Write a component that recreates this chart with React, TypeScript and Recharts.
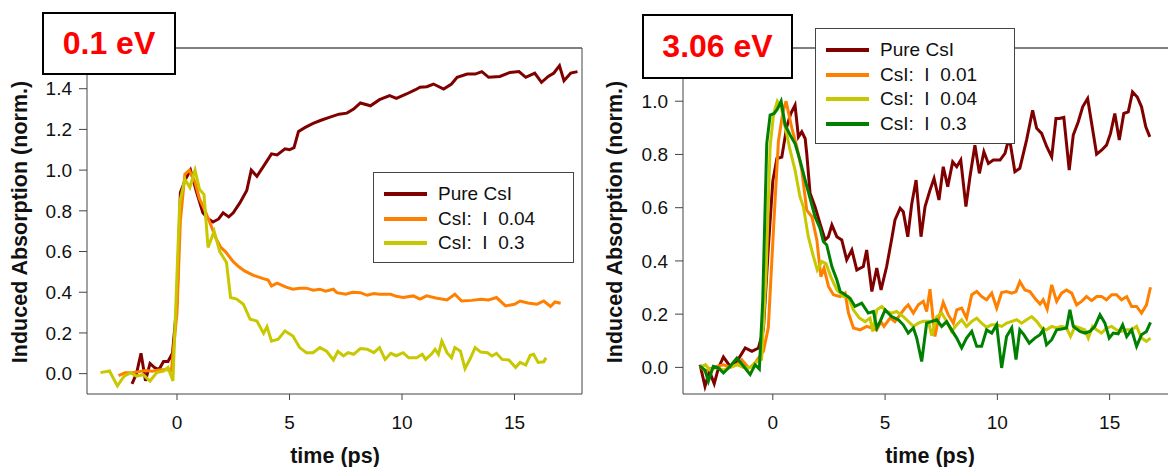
import React from 'react';
import { LineChart, Line, XAxis, YAxis, ReferenceLine } from 'recharts';

const FONT = '"Liberation Sans", Arial, Helvetica, sans-serif';

const timeTicks = [0, 5, 10, 15];
const leftYTicks = [0, 0.2, 0.4, 0.6, 0.8, 1.0, 1.2, 1.4];
const rightYTicks = [0, 0.2, 0.4, 0.6, 0.8, 1.0];

const leftLabels = ['Pure CsI', 'CsI:  I  0.04', 'CsI:  I  0.3'];
const rightLabels = ['Pure CsI', 'CsI:  I  0.01', 'CsI:  I  0.04', 'CsI:  I  0.3'];

// ---- 0.1 eV panel ----
const lTimePure = [-2.0, -1.8, -1.6, -1.4, -1.2, -1.0, -0.8, -0.6, -0.4, -0.2, 0.0, 0.15, 0.4, 0.6, 0.85, 1.15, 1.4, 1.6, 1.85, 2.05, 2.3, 2.5, 2.8, 3.1, 3.3, 3.55, 3.85, 4.2, 4.45, 4.8, 5.0, 5.2, 5.4, 5.7, 6.05, 6.4, 6.8, 7.2, 7.55, 7.85, 8.15, 8.6, 9.0, 9.45, 9.75, 10.2, 10.6, 10.8, 11.1, 11.4, 11.85, 12.2, 12.45, 12.9, 13.25, 13.55, 13.85, 14.35, 14.8, 15.2, 15.5, 15.9, 16.2, 16.5, 16.75, 17.0, 17.2, 17.5, 17.8];
const lValPure = [-0.05, 0.0, 0.10, -0.035, 0.05, 0.03, 0.02, 0.06, 0.06, 0.10, 0.35, 0.89, 0.96, 1.0, 0.90, 0.79, 0.76, 0.745, 0.76, 0.79, 0.77, 0.79, 0.84, 0.90, 1.0, 0.97, 1.02, 1.08, 1.075, 1.105, 1.10, 1.11, 1.19, 1.21, 1.23, 1.245, 1.26, 1.275, 1.28, 1.30, 1.33, 1.316, 1.346, 1.366, 1.353, 1.374, 1.395, 1.407, 1.41, 1.423, 1.398, 1.423, 1.456, 1.472, 1.472, 1.484, 1.456, 1.46, 1.48, 1.484, 1.456, 1.477, 1.431, 1.46, 1.477, 1.513, 1.439, 1.477, 1.484];

const lTime004 = [-2.6, -2.3, -2.0, -1.7, -1.4, -1.1, -0.8, -0.5, -0.25, 0.0, 0.15, 0.35, 0.55, 0.8, 1.0, 1.25, 1.45, 1.75, 1.95, 2.15, 2.5, 2.75, 3.0, 3.4, 3.8, 4.05, 4.2, 4.45, 4.85, 5.15, 5.45, 5.75, 6.05, 6.35, 6.6, 6.95, 7.1, 7.5, 7.8, 8.15, 8.45, 8.75, 9.0, 9.3, 9.5, 9.75, 10.05, 10.5, 10.8, 11.1, 11.5, 12.0, 12.35, 12.65, 13.1, 13.5, 13.85, 14.2, 14.6, 15.0, 15.25, 15.6, 16.0, 16.3, 16.6, 16.8, 17.05];
const lVal004 = [-0.01, 0.005, 0.005, 0.01, 0.015, 0.012, 0.018, 0.02, 0.015, 0.3, 0.75, 0.98, 1.0, 0.94, 0.86, 0.8, 0.745, 0.66, 0.62, 0.60, 0.55, 0.525, 0.505, 0.483, 0.468, 0.46, 0.431, 0.445, 0.425, 0.415, 0.42, 0.42, 0.41, 0.415, 0.405, 0.415, 0.398, 0.39, 0.40, 0.398, 0.385, 0.394, 0.39, 0.39, 0.39, 0.38, 0.374, 0.382, 0.366, 0.382, 0.372, 0.362, 0.39, 0.357, 0.36, 0.366, 0.362, 0.374, 0.333, 0.341, 0.357, 0.347, 0.341, 0.357, 0.33, 0.352, 0.346];

const lTime03 = [-3.4, -3.0, -2.65, -2.35, -2.05, -1.8, -1.5, -1.2, -0.9, -0.6, -0.4, -0.18, 0.12, 0.35, 0.57, 0.8, 1.0, 1.2, 1.38, 1.65, 1.9, 2.2, 2.38, 2.65, 2.95, 3.25, 3.55, 3.85, 4.0, 4.2, 4.5, 4.8, 5.15, 5.45, 5.75, 6.05, 6.35, 6.65, 6.95, 7.15, 7.4, 7.6, 7.85, 8.15, 8.45, 8.75, 9.0, 9.25, 9.5, 9.75, 10.05, 10.3, 10.65, 10.9, 11.05, 11.3, 11.47, 11.62, 11.77, 12.0, 12.2, 12.35, 12.6, 12.8, 13.05, 13.25, 13.5, 13.8, 14.0, 14.2, 14.45, 14.75, 15.05, 15.25, 15.5, 15.7, 15.85, 16.05, 16.3, 16.4];
const lVal03 = [0.005, 0.013, -0.06, -0.012, 0.005, -0.012, -0.005, -0.036, 0.005, 0.013, 0.03, -0.036, 0.84, 0.956, 0.915, 1.0, 0.906, 0.88, 0.62, 0.70, 0.60, 0.546, 0.374, 0.366, 0.341, 0.267, 0.259, 0.198, 0.231, 0.16, 0.169, 0.21, 0.185, 0.128, 0.103, 0.103, 0.128, 0.11, 0.067, 0.11, 0.087, 0.103, 0.095, 0.123, 0.12, 0.103, 0.128, 0.07, 0.1, 0.088, 0.103, 0.078, 0.078, 0.095, 0.07, 0.095, 0.12, 0.095, 0.16, 0.103, 0.078, 0.128, 0.11, 0.025, 0.078, 0.128, 0.106, 0.103, 0.087, 0.1, 0.07, 0.067, 0.03, 0.055, 0.042, 0.09, 0.095, 0.055, 0.058, 0.078];

// ---- 3.06 eV panel ----
const rTimePure = [-3.24, -3.02, -2.82, -2.61, -2.42, -2.2, -1.9, -1.6, -1.23, -0.93, -0.64, -0.42, -0.2, 0.0, 0.18, 0.4, 0.62, 0.8, 0.99, 1.14, 1.29, 1.44, 1.51, 1.66, 1.88, 2.1, 2.33, 2.47, 2.63, 2.85, 3.07, 3.29, 3.52, 3.74, 4.03, 4.18, 4.41, 4.63, 4.82, 5.07, 5.3, 5.44, 5.67, 5.81, 6.01, 6.19, 6.38, 6.6, 6.78, 7.0, 7.18, 7.4, 7.59, 7.79, 8.01, 8.19, 8.37, 8.6, 8.78, 9.0, 9.2, 9.4, 9.6, 9.82, 10.12, 10.34, 10.53, 10.78, 11.0, 11.3, 11.57, 11.75, 11.97, 12.2, 12.42, 12.61, 12.76, 12.96, 13.2, 13.38, 13.6, 13.8, 14.02, 14.2, 14.42, 14.64, 14.86, 15.04, 15.23, 15.43, 15.63, 15.83, 16.02, 16.23, 16.42, 16.61, 16.79];
const rValPure = [0.01, -0.071, -0.015, -0.061, -0.002, 0.039, 0.004, 0.022, 0.073, 0.06, 0.073, 0.141, 0.45, 0.70, 0.785, 0.79, 0.904, 0.954, 0.985, 0.866, 0.885, 0.86, 0.804, 0.654, 0.604, 0.541, 0.479, 0.49, 0.535, 0.491, 0.479, 0.404, 0.441, 0.366, 0.379, 0.441, 0.285, 0.373, 0.291, 0.379, 0.485, 0.554, 0.598, 0.585, 0.491, 0.616, 0.704, 0.491, 0.604, 0.666, 0.71, 0.629, 0.754, 0.679, 0.772, 0.754, 0.779, 0.604, 0.716, 0.835, 0.729, 0.81, 0.766, 0.779, 0.779, 0.804, 0.866, 0.735, 0.748, 0.854, 0.966, 0.898, 0.879, 0.829, 0.791, 0.935, 0.935, 0.939, 0.741, 0.873, 0.922, 0.979, 1.01, 0.916, 0.801, 0.816, 0.835, 0.879, 0.954, 0.854, 0.954, 0.96, 1.035, 1.016, 0.979, 0.904, 0.866];

const rTime001 = [-3.24, -3.02, -2.8, -2.5, -2.2, -1.9, -1.6, -1.38, -1.08, -0.85, -0.64, -0.42, -0.2, 0.05, 0.25, 0.45, 0.59, 0.85, 1.07, 1.29, 1.51, 1.74, 1.96, 2.14, 2.28, 2.48, 2.7, 3.0, 3.22, 3.37, 3.59, 3.89, 4.18, 4.41, 4.63, 4.81, 4.95, 5.22, 5.44, 5.67, 5.89, 6.03, 6.26, 6.48, 6.7, 6.85, 7.0, 7.22, 7.37, 7.59, 7.81, 8.04, 8.19, 8.41, 8.63, 8.86, 9.08, 9.3, 9.52, 9.75, 9.97, 10.19, 10.41, 10.64, 10.83, 11.0, 11.23, 11.45, 11.67, 11.9, 12.04, 12.22, 12.42, 12.64, 12.86, 13.08, 13.31, 13.53, 13.75, 13.97, 14.2, 14.42, 14.64, 14.86, 15.09, 15.31, 15.53, 15.76, 15.98, 16.2, 16.42, 16.64, 16.82];
const rVal001 = [0.004, -0.015, -0.006, 0.004, 0.01, 0.0, 0.01, 0.029, -0.002, 0.01, 0.035, 0.06, 0.15, 0.55, 0.85, 0.96, 1.0, 0.898, 0.829, 0.741, 0.591, 0.566, 0.479, 0.341, 0.373, 0.304, 0.273, 0.266, 0.279, 0.204, 0.148, 0.141, 0.154, 0.148, 0.141, 0.172, 0.154, 0.185, 0.172, 0.198, 0.223, 0.235, 0.204, 0.235, 0.248, 0.21, 0.294, 0.116, 0.179, 0.244, 0.198, 0.166, 0.216, 0.223, 0.185, 0.273, 0.285, 0.266, 0.254, 0.279, 0.223, 0.281, 0.285, 0.279, 0.285, 0.322, 0.291, 0.285, 0.26, 0.238, 0.254, 0.219, 0.31, 0.248, 0.279, 0.291, 0.279, 0.235, 0.248, 0.266, 0.251, 0.266, 0.266, 0.254, 0.273, 0.273, 0.254, 0.266, 0.229, 0.229, 0.204, 0.235, 0.301];

const rTime004 = [-3.24, -3.0, -2.8, -2.5, -2.2, -1.9, -1.6, -1.3, -1.0, -0.75, -0.5, -0.3, -0.12, 0.03, 0.2, 0.37, 0.55, 0.77, 0.99, 1.21, 1.36, 1.58, 1.81, 1.98, 2.18, 2.37, 2.58, 2.85, 3.14, 3.35, 3.59, 3.86, 4.11, 4.33, 4.45, 4.63, 4.85, 5.07, 5.29, 5.51, 5.81, 5.96, 6.26, 6.48, 6.7, 6.93, 7.08, 7.3, 7.52, 7.74, 7.96, 8.19, 8.41, 8.63, 8.86, 9.08, 9.3, 9.52, 9.75, 9.97, 10.19, 10.41, 10.64, 10.86, 11.08, 11.3, 11.53, 11.75, 11.97, 12.19, 12.42, 12.64, 12.86, 13.08, 13.26, 13.46, 13.68, 13.9, 14.05, 14.24, 14.42, 14.64, 14.86, 15.09, 15.31, 15.53, 15.76, 15.98, 16.2, 16.42, 16.64, 16.82];
const rVal004 = [0.0, 0.01, -0.01, 0.0, -0.01, 0.0, 0.01, 0.0, 0.0, 0.02, 0.03, 0.35, 0.829, 0.95, 1.0, 0.98, 0.904, 0.816, 0.741, 0.641, 0.604, 0.491, 0.416, 0.366, 0.398, 0.39, 0.341, 0.291, 0.266, 0.266, 0.216, 0.185, 0.172, 0.185, 0.135, 0.216, 0.229, 0.21, 0.204, 0.21, 0.191, 0.179, 0.154, 0.166, 0.173, 0.173, 0.119, 0.191, 0.204, 0.173, 0.135, 0.16, 0.179, 0.154, 0.173, 0.185, 0.166, 0.151, 0.16, 0.16, 0.154, 0.166, 0.173, 0.179, 0.166, 0.179, 0.191, 0.173, 0.148, 0.141, 0.154, 0.148, 0.154, 0.148, 0.116, 0.154, 0.148, 0.141, 0.11, 0.154, 0.141, 0.129, 0.148, 0.154, 0.141, 0.135, 0.141, 0.141, 0.154, 0.11, 0.098, 0.11];

const rTime03 = [-3.24, -3.02, -2.87, -2.65, -2.42, -2.2, -1.9, -1.6, -1.3, -1.01, -0.79, -0.6, -0.45, -0.27, -0.12, 0.06, 0.2, 0.37, 0.55, 0.77, 0.99, 1.21, 1.44, 1.66, 1.88, 2.1, 2.25, 2.4, 2.63, 2.85, 3.0, 3.22, 3.44, 3.66, 3.96, 4.25, 4.48, 4.63, 4.78, 5.0, 5.29, 5.59, 5.81, 6.03, 6.26, 6.41, 6.63, 6.85, 7.08, 7.3, 7.52, 7.74, 7.96, 8.19, 8.41, 8.63, 8.86, 9.08, 9.3, 9.52, 9.75, 9.97, 10.19, 10.41, 10.64, 10.83, 11.0, 11.18, 11.42, 11.67, 11.9, 12.04, 12.19, 12.42, 12.64, 12.86, 13.08, 13.23, 13.38, 13.68, 13.9, 14.12, 14.34, 14.57, 14.79, 14.98, 15.16, 15.38, 15.58, 15.76, 15.98, 16.2, 16.42, 16.64, 16.82];
const rVal03 = [0.004, -0.01, -0.052, 0.004, -0.002, -0.021, 0.004, 0.035, 0.004, -0.027, 0.01, -0.006, 0.25, 0.841, 0.948, 0.954, 0.97, 1.0, 0.91, 0.873, 0.841, 0.779, 0.704, 0.635, 0.566, 0.523, 0.473, 0.46, 0.379, 0.329, 0.285, 0.273, 0.26, 0.229, 0.241, 0.204, 0.21, 0.148, 0.173, 0.216, 0.191, 0.179, 0.16, 0.129, 0.148, 0.11, 0.022, 0.166, 0.173, 0.179, 0.154, 0.172, 0.141, 0.11, 0.073, 0.11, 0.135, 0.079, 0.079, 0.141, 0.129, 0.16, -0.002, 0.116, 0.148, 0.029, 0.141, 0.123, 0.091, 0.11, 0.123, 0.141, 0.085, 0.104, 0.141, 0.144, 0.148, 0.216, 0.154, 0.135, 0.129, 0.135, 0.154, 0.198, 0.166, 0.11, 0.129, 0.126, 0.16, 0.116, 0.141, 0.079, 0.123, 0.135, 0.169];

const DARK_RED = '#800000';
const ORANGE = '#FF8000';
const YELLOW = '#C8C800';
const GREEN = '#008000';

type Series = { name: string; color: string; t: number[]; v: number[] };

const leftSeries: Series[] = [
  { name: leftLabels[0], color: DARK_RED, t: lTimePure, v: lValPure },
  { name: leftLabels[1], color: ORANGE, t: lTime004, v: lVal004 },
  { name: leftLabels[2], color: YELLOW, t: lTime03, v: lVal03 },
];

const rightSeries: Series[] = [
  { name: rightLabels[0], color: DARK_RED, t: rTimePure, v: rValPure },
  { name: rightLabels[1], color: ORANGE, t: rTime001, v: rVal001 },
  { name: rightLabels[2], color: YELLOW, t: rTime004, v: rVal004 },
  { name: rightLabels[3], color: GREEN, t: rTime03, v: rVal03 },
];

const toPoints = (t: number[], v: number[]) => t.map((x, i) => ({ t: x, v: v[i] }));

const tickStyle = { fill: '#111', fontSize: 19, fontFamily: FONT };

interface PanelProps {
  x: number;
  margin: { top: number; right: number; left: number; bottom: number };
  yMax: number;
  yTicks: number[];
  series: Series[];
  title: string;
  titleBox: { left: number; top: number; width: number; height: number };
  legendBox: { left: number; top: number; width: number; height: number };
  yTitleX: number;
  xTitleX: number;
}

const Panel: React.FC<PanelProps> = ({ x, margin, yMax, yTicks, series, title, titleBox, legendBox, yTitleX, xTitleX }) => (
  <>
    <div style={{ position: 'absolute', left: x, top: 0 }}>
      <LineChart width={600} height={467} margin={margin}>
        <XAxis
          type="number"
          dataKey="t"
          domain={[-4, 18]}
          ticks={timeTicks}
          allowDataOverflow
          stroke="#444"
          tickSize={6}
          tickMargin={16}
          height={40}
          tick={tickStyle}
        />
        <YAxis
          type="number"
          domain={[-0.1, yMax]}
          ticks={yTicks}
          allowDataOverflow
          stroke="#444"
          tickSize={8}
          tickMargin={7}
          width={60}
          tickFormatter={(v: number) => v.toFixed(1)}
          tick={tickStyle}
        />
        <ReferenceLine y={yMax} stroke="#000" strokeWidth={1} />
        <ReferenceLine x={18} stroke="#444" strokeWidth={1} />
        {series.map((s) => (
          <Line
            key={s.name}
            data={toPoints(s.t, s.v)}
            dataKey="v"
            type="linear"
            stroke={s.color}
            strokeWidth={3}
            dot={false}
            activeDot={false}
            isAnimationActive={false}
          />
        ))}
      </LineChart>
    </div>

    {/* axis titles */}
    <div
      style={{
        position: 'absolute', left: yTitleX, top: 221.5, transform: 'translate(-50%, -50%) rotate(-90deg)',
        whiteSpace: 'nowrap', fontFamily: FONT, fontWeight: 'bold', fontSize: 21.5, lineHeight: 1, color: '#111',
      }}
    >
      Induced Absorption (norm.)
    </div>
    <div
      style={{
        position: 'absolute', left: xTitleX, top: 456.5, transform: 'translate(-50%, -50%)',
        whiteSpace: 'nowrap', fontFamily: FONT, fontWeight: 'bold', fontSize: 21.5, lineHeight: 1, color: '#111',
      }}
    >
      time (ps)
    </div>

    {/* energy label */}
    <div
      style={{
        position: 'absolute', ...titleBox, boxSizing: 'border-box', border: '2.5px solid #000', background: '#fff',
        display: 'flex', alignItems: 'center', justifyContent: 'center',
        fontFamily: FONT, fontWeight: 'bold', fontSize: 32, color: '#FF0000',
      }}
    >
      {title}
    </div>

    {/* legend */}
    <div
      style={{
        position: 'absolute', ...legendBox, boxSizing: 'border-box', border: '1px solid #444', background: '#fff',
      }}
    >
      {series.map((s, i) => (
        <div
          key={s.name}
          style={{ position: 'absolute', left: 0, top: 9 + i * 24.7, height: 24, width: '100%', display: 'flex', alignItems: 'center' }}
        >
          <div style={{ marginLeft: 10, width: 43, height: 4, background: s.color }} />
          <div style={{ marginLeft: 11, fontFamily: FONT, fontSize: 19, color: '#111', whiteSpace: 'pre' }}>{s.name}</div>
        </div>
      ))}
    </div>
  </>
);

export default function App() {
  return (
    <div style={{ position: 'absolute', left: 0, top: 0, width: 1168, height: 467, overflow: 'hidden', background: '#fff' }}>
      <Panel
        x={0}
        margin={{ top: 48, right: 18, left: 27, bottom: 33 }}
        yMax={1.6}
        yTicks={leftYTicks}
        series={leftSeries}
        title="0.1 eV"
        titleBox={{ left: 42, top: 12, width: 134, height: 63 }}
        legendBox={{ left: 373, top: 172, width: 201, height: 91 }}
        yTitleX={21}
        xTitleX={335}
      />
      <Panel
        x={590}
        margin={{ top: 48, right: 13, left: 33, bottom: 33 }}
        yMax={1.2}
        yTicks={rightYTicks}
        series={rightSeries}
        title="3.06 eV"
        titleBox={{ left: 642, top: 14, width: 151, height: 65 }}
        legendBox={{ left: 815, top: 28, width: 200, height: 116 }}
        yTitleX={616}
        xTitleX={930}
      />
    </div>
  );
}
